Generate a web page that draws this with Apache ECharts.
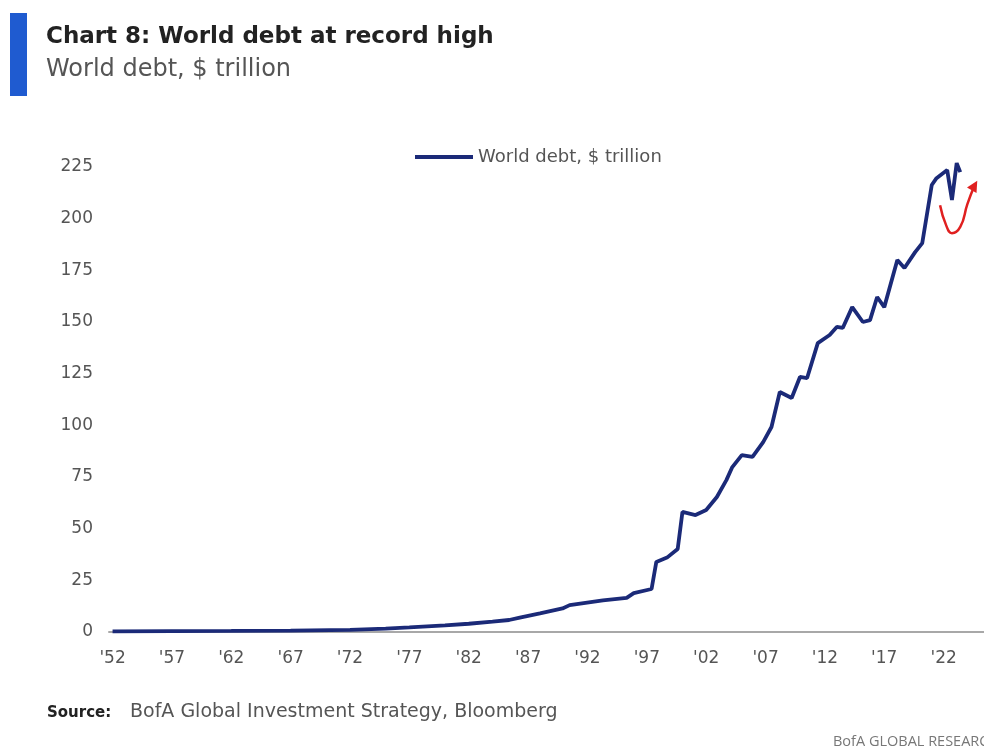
<!DOCTYPE html>
<html>
<head>
<meta charset="utf-8">
<script src="https://cdn.jsdelivr.net/npm/echarts@6/dist/echarts.min.js"></script>
<style>
  html, body { margin: 0; padding: 0; background: #fff; }
  #main { width: 984px; height: 753px; }
</style>
</head>
<body>
<div id="main"></div>
<script>
var myChart = echarts.init(document.getElementById('main'));

// year (fractional) and world debt in $ trillion
var years = [1952, 1957, 1962, 1967, 1972, 1975, 1977, 1980, 1982, 1984, 1985.4, 1986.3, 1988, 1989.9, 1990.5,
  1993.3, 1995.3, 1995.9, 1997.4, 1997.8, 1998.7, 1999.6, 2000.0, 2001.1, 2002.0, 2002.9, 2003.7, 2004.2,
  2005.0, 2005.9, 2006.8, 2007.5, 2008.2, 2009.2, 2009.9, 2010.5, 2011.4, 2012.4, 2013.0, 2013.5, 2014.3,
  2015.2, 2015.8, 2016.4, 2017.0, 2018.1, 2018.7, 2019.6, 2020.2, 2021.0, 2021.4, 2022.3, 2022.7, 2023.1, 2023.4];
var debt = [0.3, 0.4, 0.5, 0.7, 1.0, 1.6, 2.2, 3.2, 4.0, 5.0, 5.8, 7.0, 9.0, 11.4, 13.0,
  15.3, 16.5, 18.8, 20.8, 33.9, 36.0, 40.2, 58.1, 56.6, 59.0, 65.3, 73.5, 79.8,
  85.6, 84.7, 91.9, 99.2, 116.1, 113.2, 123.4, 122.9, 139.8, 143.7, 147.6, 147.1, 157.2,
  150.0, 150.9, 162.1, 157.2, 180.0, 176.1, 183.8, 188.2, 216.3, 219.6, 223.5, 209.0, 226.9, 222.5];

// red "rebound" arrow annotation, in data coordinates
var arrowYears = [2021.7, 2022.2, 2022.7, 2023.4, 2024.0, 2024.6];
var arrowVals = [206.5, 197, 193, 196, 207, 216];

var xTicks = [1952, 1957, 1962, 1967, 1972, 1977, 1982, 1987, 1992, 1997, 2002, 2007, 2012, 2017, 2022];

var debtData = years.map(function (y, i) { return [y, debt[i]]; });
var arrowData = arrowYears.map(function (y, i) {
  if (i === arrowYears.length - 1) {
    return { value: [y, arrowVals[i]], symbol: 'triangle', symbolSize: 11, symbolRotate: -30 };
  }
  return [y, arrowVals[i]];
});

var font = 'DejaVu Sans';

var option = {
  animation: false,
  textStyle: { fontFamily: font },
  legend: {
    data: [{ name: 'World debt, $ trillion', icon: 'rect' }],
    left: 410,
    top: 143,
    itemWidth: 58,
    itemHeight: 4,
    textStyle: { fontSize: 18, color: '#555', fontFamily: font }
  },
  grid: { left: 109, right: 0, top: 167, bottom: 121 },
  xAxis: {
    type: 'value',
    min: 1951.7,
    max: 2025.4,
    splitLine: { show: false },
    axisLine: { onZero: false, lineStyle: { color: '#a8a8a8', width: 2 } },
    axisTick: { show: false },
    axisLabel: {
      customValues: xTicks,
      margin: 18,
      fontSize: 17,
      color: '#555',
      fontFamily: font,
      formatter: function (v) { return "'" + String(v).slice(2); }
    }
  },
  yAxis: {
    type: 'value',
    min: 0,
    max: 225,
    interval: 25,
    splitLine: { show: false },
    axisLine: { show: false },
    axisTick: { show: false },
    axisLabel: { fontSize: 17, color: '#555', margin: 16, fontFamily: font }
  },
  series: [
    {
      name: 'World debt, $ trillion',
      type: 'line',
      data: debtData,
      symbol: 'none',
      clip: false,
      lineStyle: { color: '#1b2a78', width: 3.8 },
      itemStyle: { color: '#1b2a78' }
    },
    {
      name: 'arrow',
      type: 'line',
      data: arrowData,
      smooth: true,
      symbol: 'none',
      clip: false,
      lineStyle: { color: '#e02020', width: 2.5 },
      itemStyle: { color: '#e02020' }
    }
  ],
  graphic: [
    { type: 'rect', shape: { x: 10, y: 13, width: 17, height: 83 }, style: { fill: '#1f5bd0' } },
    {
      type: 'text', left: 46, top: 26,
      style: { text: 'Chart 8: World debt at record high', font: 'bold 23px "DejaVu Sans"', fill: '#222' }
    },
    {
      type: 'text', left: 46, top: 58,
      style: { text: 'World debt, $ trillion', font: '24px "DejaVu Sans"', fill: '#555' }
    },
    {
      type: 'text', left: 47, top: 706,
      style: { text: 'Source:', font: 'bold 15px "DejaVu Sans"', fill: '#222' }
    },
    {
      type: 'text', left: 130, top: 703,
      style: { text: 'BofA Global Investment Strategy, Bloomberg', font: '19px "DejaVu Sans"', fill: '#555' }
    },
    {
      type: 'text', left: 833, top: 734,
      style: { text: 'BofA GLOBAL RESEARCH', font: '14.5px "Open Sans"', fill: '#777' }
    }
  ]
};
myChart.setOption(option);
</script>
</body>
</html>
